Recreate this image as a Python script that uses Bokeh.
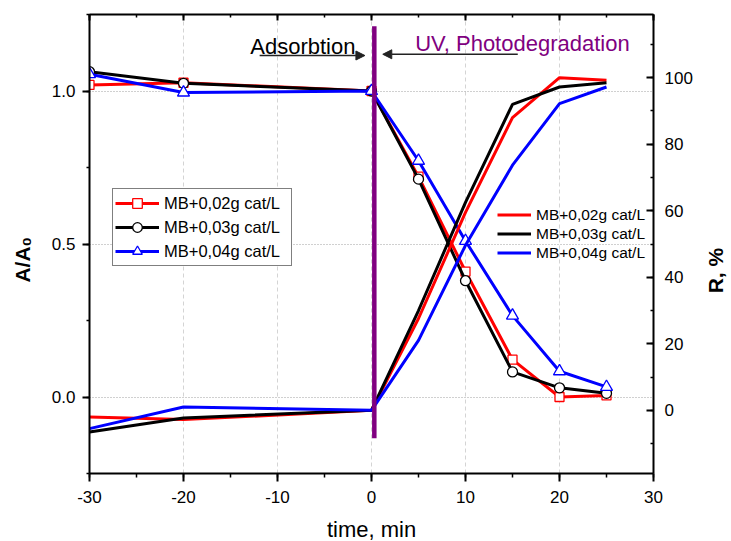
import math
from bokeh.plotting import figure
from bokeh.models import (Range1d, LinearAxis, SingleIntervalTicker, Legend, LegendItem,
                          Label, Arrow, NormalHead, NumeralTickFormatter)
from bokeh.embed import file_html
from bokeh.resources import INLINE

# ---------------- data ----------------
time_min = [-30, -20, 0, 5, 10, 15, 20, 25]

# A/A0 (left axis, lines with open markers)
a_002 = [1.020, 1.027, 1.000, 0.720, 0.410, 0.122, 0.000, 0.005]
a_003 = [1.063, 1.025, 1.000, 0.712, 0.380, 0.082, 0.030, 0.012]
a_004 = [1.055, 0.995, 1.000, 0.772, 0.510, 0.266, 0.084, 0.033]

# R, % (right axis, plain lines)
r_002 = [-2.0, -2.8, 0.0, 27.6, 59.5, 88.0, 100.0, 99.2]
r_003 = [-6.5, -2.3, 0.0, 30.0, 62.5, 92.0, 97.2, 98.5]
r_004 = [-5.5, 1.0, 0.0, 21.0, 49.6, 73.7, 92.2, 97.2]

series_labels = ["MB+0,02g cat/L", "MB+0,03g cat/L", "MB+0,04g cat/L"]

# UV switched on (vertical purple marker line)
uv_time = [0.3]
uv_low = [-0.135]
uv_high = [1.212]

FONT = "Liberation Sans"
colors = ["#ff0000", "#000000", "#0000ff"]
markers = ["square", "circle", "triangle"]
msizes = [9, 10, 12]

p = figure(width=731, height=541,
           x_range=Range1d(-30, 30), y_range=Range1d(-0.25, 1.25),
           output_backend="svg", toolbar_location=None,
           min_border_left=89, min_border_right=78, min_border_top=14, min_border_bottom=68,
           background_fill_color="white", border_fill_color="white",
           outline_line_color=None)
p.extra_y_ranges = {"r": Range1d(-19, 119)}

x_ticker = SingleIntervalTicker(interval=10, num_minor_ticks=2)
y_ticker = SingleIntervalTicker(interval=0.5, num_minor_ticks=2)
r_ticker = SingleIntervalTicker(interval=20, num_minor_ticks=2)


def style_axis(ax, tin, tout, standoff):
    ax.axis_line_width = 2
    ax.axis_line_color = "black"
    ax.major_tick_line_width = 2
    ax.minor_tick_line_width = 1.5
    ax.major_tick_line_color = "black"
    ax.minor_tick_line_color = "black"
    ax.major_tick_in = tin
    ax.major_tick_out = tout
    ax.minor_tick_in = tin // 2 if tin else 0
    ax.minor_tick_out = tout // 2 if tout else 0
    ax.major_label_text_font = FONT
    ax.major_label_text_font_size = "17px"
    ax.major_label_text_color = "black"
    ax.major_label_standoff = standoff


xa = p.xaxis[0]
xa.ticker = x_ticker
xa.formatter = NumeralTickFormatter(format="0")
style_axis(xa, 0, 8, 9)

ya = p.yaxis[0]
ya.ticker = y_ticker
ya.formatter = NumeralTickFormatter(format="0.0")
style_axis(ya, 0, 7, 7)

ra = LinearAxis(y_range_name="r", ticker=r_ticker, formatter=NumeralTickFormatter(format="0"))
style_axis(ra, 7, 0, 11)
p.add_layout(ra, "right")

ta = LinearAxis(ticker=SingleIntervalTicker(interval=10, num_minor_ticks=2))
style_axis(ta, 6, 0, 0)
ta.major_label_text_font_size = "0px"
ta.major_label_text_color = None
p.add_layout(ta, "above")

# axis titles, placed in the side panels (outside the frame)
p.add_layout(Label(x=0.0, y=-0.4314, text="time, min",
                   text_font=FONT, text_font_size="22px",
                   text_align="center", text_baseline="alphabetic", text_color="black"), "below")
p.add_layout(Label(x=-37.1, y=0.374, text="A/A\u2080", angle=math.pi / 2,
                   text_font=FONT, text_font_size="21px", text_font_style="bold",
                   text_align="left", text_baseline="middle", text_color="black"), "left")
p.add_layout(Label(x=36.56, y=42, y_range_name="r", text="R, %", angle=math.pi / 2,
                   text_font=FONT, text_font_size="21px", text_font_style="bold",
                   text_align="center", text_baseline="middle", text_color="black"), "right")

# grids
p.xgrid[0].ticker = x_ticker
p.xgrid[0].grid_line_color = "#d4d4d4"
p.xgrid[0].grid_line_dash = "4 3"
p.xgrid[0].grid_line_width = 1
p.ygrid[0].ticker = y_ticker
p.ygrid[0].grid_line_color = "#a0a0a0"
p.ygrid[0].grid_line_dash = "1 2"
p.ygrid[0].grid_line_width = 1

# ---------------- series ----------------
a_series = [a_002, a_003, a_004]
r_series = [r_002, r_003, r_004]

left_items = []
right_items = []
for i in range(3):
    ln = p.line(time_min, a_series[i], line_color=colors[i], line_width=3)
    sc = p.scatter(time_min, a_series[i], marker=markers[i], size=msizes[i],
                   line_color=colors[i], fill_color="white", line_width=1.3)
    left_items.append(LegendItem(label=series_labels[i], renderers=[ln, sc]))

for i in range(3):
    rl = p.line(time_min, r_series[i], y_range_name="r", line_color=colors[i], line_width=3)
    right_items.append(LegendItem(label=series_labels[i], renderers=[rl]))

# UV marker line
p.segment(x0=uv_time, y0=uv_low, x1=uv_time, y1=uv_high, line_color="#800080", line_width=4.5)

# ---------------- legends ----------------
leg1 = Legend(items=left_items, location=(23, 207), margin=0, padding=2, spacing=-4,
              label_height=24, glyph_height=24, glyph_width=44, label_standoff=5,
              label_width=125,
              border_line_color="black", border_line_width=1,
              background_fill_color="white", background_fill_alpha=1.0,
              label_text_font=FONT, label_text_font_size="16.5px", label_text_color="black")
p.add_layout(leg1)

leg2 = Legend(items=right_items, location=(408, 211), margin=0, padding=0, spacing=0,
              label_height=19, glyph_height=19, glyph_width=34, label_standoff=5,
              border_line_color=None, background_fill_alpha=0.0,
              label_text_font=FONT, label_text_font_size="15.5px", label_text_color="black")
p.add_layout(leg2)

# ---------------- annotations ----------------
p.add_layout(Label(x=-12.9, y=1.145, text="Adsorbtion", text_font=FONT, text_font_size="22px",
                   text_align="left", text_baseline="alphabetic", text_color="black"))
p.add_layout(Label(x=4.65, y=1.156, text="UV, Photodegradation", text_font=FONT,
                   text_font_size="22px", text_align="left", text_baseline="alphabetic",
                   text_color="#800080"))

p.add_layout(Arrow(end=NormalHead(size=9, fill_color="#222222", line_color="#222222", line_width=1),
                   x_start=-11.9, y_start=1.116, x_end=-0.7, y_end=1.116,
                   line_color="#222222", line_width=1.5))
p.add_layout(Arrow(end=NormalHead(size=9, fill_color="#222222", line_color="#222222", line_width=1),
                   x_start=15.56, y_start=1.12, x_end=1.2, y_end=1.12,
                   line_color="#222222", line_width=1.5))

open("out.html", "w").write(file_html(p, INLINE))
